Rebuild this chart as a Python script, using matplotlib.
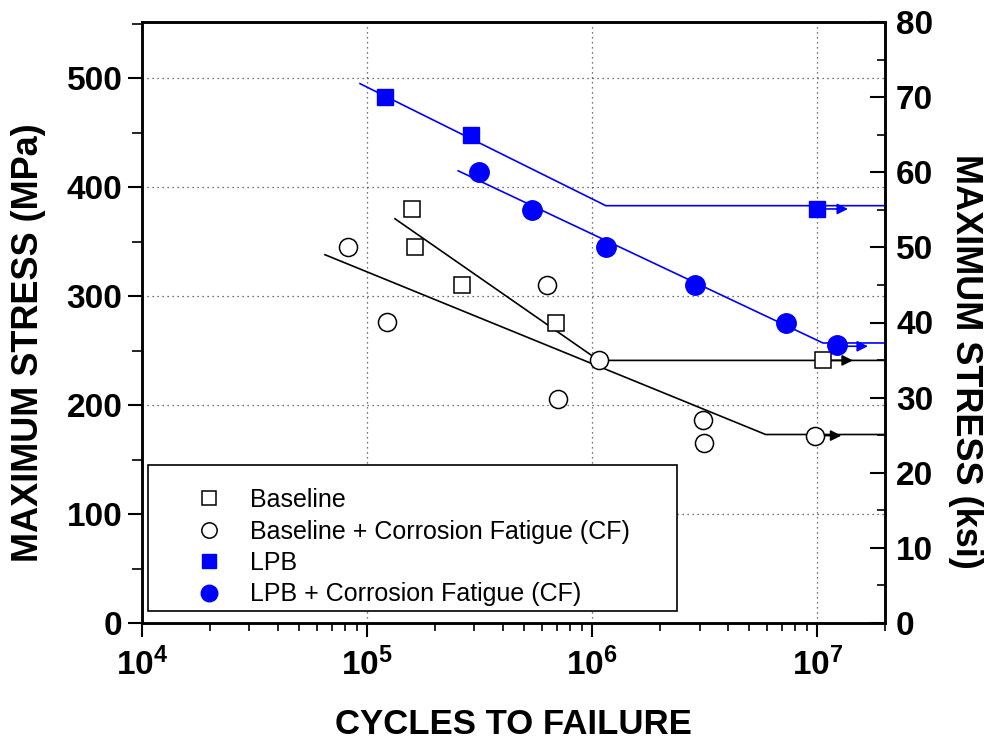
import numpy as np
import matplotlib
matplotlib.use("Agg")
import matplotlib.pyplot as plt
from matplotlib.patches import Rectangle
from matplotlib.ticker import FixedLocator, LogLocator, NullFormatter, FuncFormatter, MultipleLocator

plt.rcParams['font.family'] = ['Liberation Sans', 'DejaVu Sans']
plt.rcParams['mathtext.fontset'] = 'custom'
plt.rcParams['mathtext.rm'] = 'Liberation Sans:bold'
plt.rcParams['mathtext.bf'] = 'Liberation Sans:bold'

# ---- data (MPa) ----
base_N = [1.59e5, 1.64e5, 2.64e5, 6.9e5, 1.06e7]
base_S = [380, 345, 310, 275, 241]
basecf_N = [8.2e4, 1.22e5, 6.3e5, 7.05e5, 1.07e6, 3.1e6, 3.15e6, 9.8e6]
basecf_S = [345, 276, 310, 206, 241, 186, 165, 172]
lpb_N = [1.2e5, 2.9e5, 1.0e7]
lpb_S = [483, 448, 380]
lpbcf_N = [3.14e5, 5.4e5, 1.15e6, 2.85e6, 7.3e6, 1.22e7]
lpbcf_S = [414, 379, 345, 310, 275, 255]

# fitted curves (knee lines)
lpb_fit_N = [9.3e4, 1.15e6, 2.0e7]
lpb_fit_S = [495, 383, 383]
lpbcf_fit_N = [2.54e5, 1.06e7, 2.0e7]
lpbcf_fit_S = [415, 257, 257]
base_fit_N = [1.33e5, 1.07e6, 2.0e7]
base_fit_S = [371, 241, 241]
basecf_fit_N = [6.5e4, 5.9e6, 2.0e7]
basecf_fit_S = [338, 173, 173]

# runout arrows
arrow_start = [1.1e7, 1.28e7, 1.13e7, 1.0e7]
arrow_end = [1.37e7, 1.68e7, 1.44e7, 1.28e7]
arrow_S = [380, 254, 241, 172]
arrow_col = ['blue', 'blue', 'black', 'black']

KSI = 6.894757
ymax_ksi = 80

W, H = 992, 746
fig = plt.figure(figsize=(W/100, H/100), dpi=100)
L, R, T, B = 142, 885, 22, 623
ax = fig.add_axes([L/W, 1-B/H, (R-L)/W, (B-T)/H])

def ax_x(px):
    return (px-L)/(R-L)

def ax_y(py):
    return (B-py)/(B-T)

ax.set_xscale('log')
ax.set_xlim(1e4, 2e7)
ax.set_ylim(0, ymax_ksi*KSI)

lw = 1.2
ax.plot(lpb_fit_N, lpb_fit_S, color='blue', lw=lw, zorder=2)
ax.plot(lpbcf_fit_N, lpbcf_fit_S, color='blue', lw=lw, zorder=2)
ax.plot(base_fit_N, base_fit_S, color='black', lw=lw, zorder=2)
ax.plot(basecf_fit_N, basecf_fit_S, color='black', lw=lw, zorder=2)

for xs, xe, s, c in zip(arrow_start, arrow_end, arrow_S, arrow_col):
    ax.annotate('', xy=(xe, s), xytext=(xs, s),
                arrowprops=dict(arrowstyle='-|>', color=c, lw=1.2,
                                mutation_scale=16, shrinkA=0, shrinkB=0), zorder=3)

h1, = ax.plot(base_N, base_S, ls='none', marker='s', ms=11.5, mfc='white', mec='black',
              mew=1.1, label='Baseline', zorder=4)
h2, = ax.plot(basecf_N, basecf_S, ls='none', marker='o', ms=13, mfc='white', mec='black',
              mew=1.1, label='Baseline + Corrosion Fatigue (CF)', zorder=4)
h3, = ax.plot(lpb_N, lpb_S, ls='none', marker='s', ms=12, mfc='blue', mec='blue',
              mew=1, label='LPB', zorder=4)
h4, = ax.plot(lpbcf_N, lpbcf_S, ls='none', marker='o', ms=14, mfc='blue', mec='blue',
              mew=1, label='LPB + Corrosion Fatigue (CF)', zorder=4)

# ticks
ax.xaxis.set_major_locator(FixedLocator([1e4, 1e5, 1e6, 1e7]))
ax.xaxis.set_minor_locator(LogLocator(base=10, subs=np.arange(2, 10)))
ax.xaxis.set_minor_formatter(NullFormatter())
ax.xaxis.set_major_formatter(FuncFormatter(lambda v, p: r'$\mathbf{10^{%d}}$' % round(np.log10(v))))
ax.yaxis.set_major_locator(FixedLocator([0, 100, 200, 300, 400, 500]))
ax.yaxis.set_minor_locator(FixedLocator([50, 150, 250, 350, 450, 550]))

ax.tick_params(axis='x', which='major', direction='out', length=10, width=1.5,
               labelsize=24, pad=8, top=False)
ax.tick_params(axis='x', which='minor', direction='out', length=6, width=1.2, top=False)
ax.tick_params(axis='y', which='major', direction='out', length=10, width=1.5,
               labelsize=24, pad=4, right=False)
ax.tick_params(axis='y', which='minor', direction='out', length=7, width=1.2, right=False)
for lab in ax.get_yticklabels():
    lab.set_fontweight('bold')

for sp in ax.spines.values():
    sp.set_linewidth(1.8)

ax.grid(True, which='major', ls=(0, (1, 3)), color='#444444', lw=0.9)
ax.set_axisbelow(True)

ax2 = ax.twinx()
ax2.set_ylim(0, ymax_ksi)
ax2.yaxis.set_major_locator(MultipleLocator(10))
ax2.yaxis.set_minor_locator(MultipleLocator(5))
ax2.tick_params(axis='y', which='major', direction='in', length=11, width=1.5,
                labelsize=24, pad=8)
ax2.tick_params(axis='y', which='minor', direction='in', length=6, width=1.2)
for lab in ax2.get_yticklabels():
    lab.set_fontweight('bold')
for sp in ax2.spines.values():
    sp.set_linewidth(1.8)

# axis titles
fig.text(513/W, 1-725/H, 'CYCLES TO FAILURE', fontsize=25, fontweight='bold',
         ha='center', va='center')
fig.text(29/W, 1-343/H, 'MAXIMUM STRESS (MPa)', fontsize=26, fontweight='bold',
         ha='center', va='center', rotation=90)
fig.text(965/W, 1-361/H, 'MAXIMUM STRESS (ksi)', fontsize=26, fontweight='bold',
         ha='center', va='center', rotation=270)

# legend box
rect = Rectangle((ax_x(148), ax_y(611)), ax_x(677)-ax_x(148), ax_y(465)-ax_y(611),
                 transform=ax2.transAxes, facecolor='white', edgecolor='black',
                 lw=1.2, zorder=8)
ax2.add_patch(rect)
leg = ax2.legend([h1, h2, h3, h4], [h.get_label() for h in (h1, h2, h3, h4)],
                 loc='upper left', bbox_to_anchor=(ax_x(190), ax_y(488)),
                 fontsize=18, frameon=False, borderpad=0, labelspacing=0.3,
                 handlelength=1.5, handletextpad=0.9, borderaxespad=0,
                 markerscale=0.85)
leg.set_zorder(9)

fig.savefig('out.png', dpi=100)
